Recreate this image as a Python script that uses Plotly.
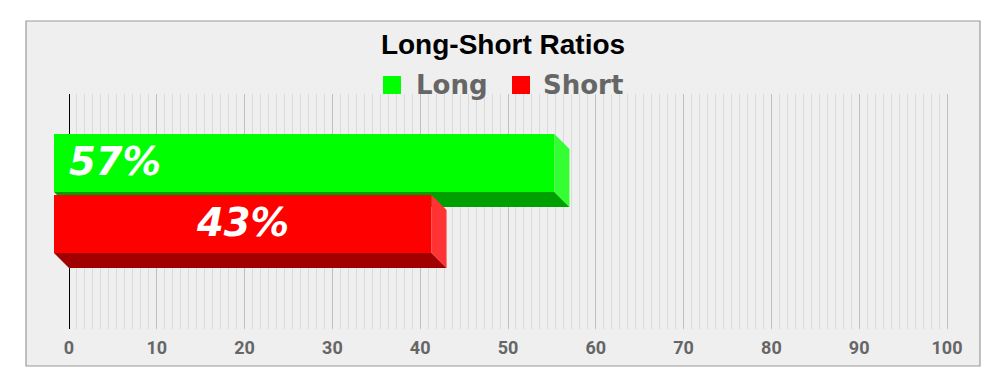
import plotly.graph_objects as go

# ---------------- data ----------------
series = ["Long", "Short"]
values = [57, 43]
front_colors = ["#00ff00", "#ff0000"]
side_colors = ["#33ff33", "#ff3333"]
bottom_colors = ["#00a000", "#a00000"]
tick_vals = [0, 10, 20, 30, 40, 50, 60, 70, 80, 90, 100]
title_text = "Long-Short Ratios"

# ---------------- layout constants (pixels) ----------------
W, H = 1000, 392
BACK_L, BACK_R, BACK_T, BACK_B = 69, 947, 94, 329   # back wall (grid)
DEPTH = 15                                           # 3D depth offset
FRONT_L, FRONT_R = BACK_L - DEPTH, BACK_R - DEPTH
FRONT_T, FRONT_B = BACK_T - DEPTH, BACK_B - DEPTH
BAR_H = 58
BAR_TOPS = [134, 195]          # pixel top of each bar's front face
X_MIN, X_MAX = 0, 100
PX_PER_UNIT = (BACK_R - BACK_L) / (X_MAX - X_MIN)
PAD_PX = 2                     # pad axes so the edge grid lines are kept
EPS = PAD_PX / PX_PER_UNIT
dx = DEPTH / PX_PER_UNIT                            # depth in x data units
mid_px = (FRONT_T + FRONT_B) / 2                    # y2 value 0 (1 unit = 1px)
half = (FRONT_B - FRONT_T) / 2

# legend layout (pixels)
LEG_SQ = 18
LEG_CY = 85
LEG_SQ_X = [383, 512]
LEG_TXT_X = [414, 541]

fig = go.Figure()

# invisible trace on back axes so the grid subplot is created
fig.add_trace(go.Scatter(x=[None], y=[None], mode="markers", showlegend=False,
                         xaxis="x", yaxis="y", hoverinfo="skip"))

for i, (name, v) in enumerate(zip(series, values)):
    ax = str(i + 2)
    top_val = mid_px - BAR_TOPS[i]
    bot_val = top_val - BAR_H
    # bottom face
    fig.add_trace(go.Scatter(
        x=[0, v, v + dx, dx, 0],
        y=[bot_val, bot_val, bot_val - DEPTH, bot_val - DEPTH, bot_val],
        fill="toself", mode="lines", line=dict(width=0, color=bottom_colors[i]),
        fillcolor=bottom_colors[i], showlegend=False, hoverinfo="skip",
        xaxis="x" + ax, yaxis="y" + ax))
    # side face
    fig.add_trace(go.Scatter(
        x=[v, v + dx, v + dx, v, v],
        y=[top_val, top_val - DEPTH, bot_val - DEPTH, bot_val, top_val],
        fill="toself", mode="lines", line=dict(width=0, color=side_colors[i]),
        fillcolor=side_colors[i], showlegend=False, hoverinfo="skip",
        xaxis="x" + ax, yaxis="y" + ax))
    # front face
    fig.add_trace(go.Bar(
        x=[v], y=[0], orientation="h", width=[BAR_H], offset=[bot_val],
        marker=dict(color=front_colors[i], line=dict(width=0)),
        showlegend=False, name=name, xaxis="x" + ax, yaxis="y" + ax))

# value labels
label_font = dict(family="DejaVu Sans", size=38.5, color="white",
                  weight="bold", style="italic")
for i, v in enumerate(values):
    ax = str(i + 2)
    yc = mid_px - BAR_TOPS[i] - BAR_H / 2
    if i == 0:
        fig.add_annotation(x=0, y=yc, xref="x" + ax, yref="y" + ax,
                           text=f"{v}%", showarrow=False, xanchor="left",
                           yanchor="middle", xshift=DEPTH - 2, yshift=2, font=label_font)
    else:
        fig.add_annotation(x=v / 2, y=yc, xref="x" + ax, yref="y" + ax,
                           text=f"{v}%", showarrow=False, xanchor="center",
                           yanchor="middle", yshift=2, font=label_font)

# legend (manual: squares + text)
shapes = [dict(type="rect", xref="paper", yref="paper", layer="below",
               x0=26 / W, x1=980 / W, y0=(H - 366) / H, y1=(H - 21) / H,
               fillcolor="#efefef", line=dict(color="#9a9a9a", width=1.2))]
for i, name in enumerate(series):
    shapes.append(dict(type="rect", xref="paper", yref="paper", layer="above",
                       x0=LEG_SQ_X[i] / W, x1=(LEG_SQ_X[i] + LEG_SQ) / W,
                       y0=(H - LEG_CY - LEG_SQ / 2) / H, y1=(H - LEG_CY + LEG_SQ / 2) / H,
                       fillcolor=front_colors[i], line=dict(width=0)))
    fig.add_annotation(x=LEG_TXT_X[i] / W, y=(H - LEG_CY) / H, xref="paper", yref="paper",
                       text=name, showarrow=False, xanchor="left", yanchor="middle",
                       font=dict(family="DejaVu Sans", size=26, color="#666666",
                                 weight="bold"))

front_x = dict(domain=[(FRONT_L - PAD_PX) / W, (FRONT_R + PAD_PX) / W],
               range=[X_MIN - EPS, X_MAX + EPS],
               visible=False, fixedrange=True, automargin=False)
front_y = dict(domain=[(H - FRONT_B) / H, (H - FRONT_T) / H], range=[-half, half],
               visible=False, fixedrange=True, automargin=False)

fig.update_layout(
    width=W, height=H,
    margin=dict(l=0, r=0, t=0, b=0, pad=0, autoexpand=False),
    paper_bgcolor="white",
    plot_bgcolor="rgba(0,0,0,0)",
    showlegend=False,
    title=dict(text=title_text, x=0.503, xanchor="center",
               y=(H - 44) / H, yanchor="middle",
               font=dict(family="Liberation Sans, Arial", size=28, color="black",
                         weight="bold")),
    xaxis=dict(domain=[(BACK_L - PAD_PX) / W, (BACK_R + PAD_PX) / W],
               range=[X_MIN - EPS, X_MAX + EPS],
               tickvals=tick_vals, ticktext=[str(t) for t in tick_vals],
               showgrid=True, gridcolor="#bfbfbf", gridwidth=1,
               minor=dict(dtick=10 / 11, tick0=0, showgrid=True, gridcolor="#dadada",
                          gridwidth=1),
               zeroline=True, zerolinecolor="black", zerolinewidth=1,
               showline=False, ticks="", ticklabelstandoff=6,
               tickfont=dict(family="Roboto", size=18, color="#666666", weight="bold"),
               fixedrange=True, anchor="y", automargin=False),
    yaxis=dict(domain=[(H - BACK_B) / H, (H - BACK_T) / H], range=[0, 1],
               visible=False, showgrid=False, fixedrange=True, anchor="x",
               automargin=False),
    xaxis2=dict(front_x, anchor="y2"), yaxis2=dict(front_y, anchor="x2"),
    xaxis3=dict(front_x, anchor="y3"), yaxis3=dict(front_y, anchor="x3"),
    shapes=shapes,
)

fig.write_html("out.html")
